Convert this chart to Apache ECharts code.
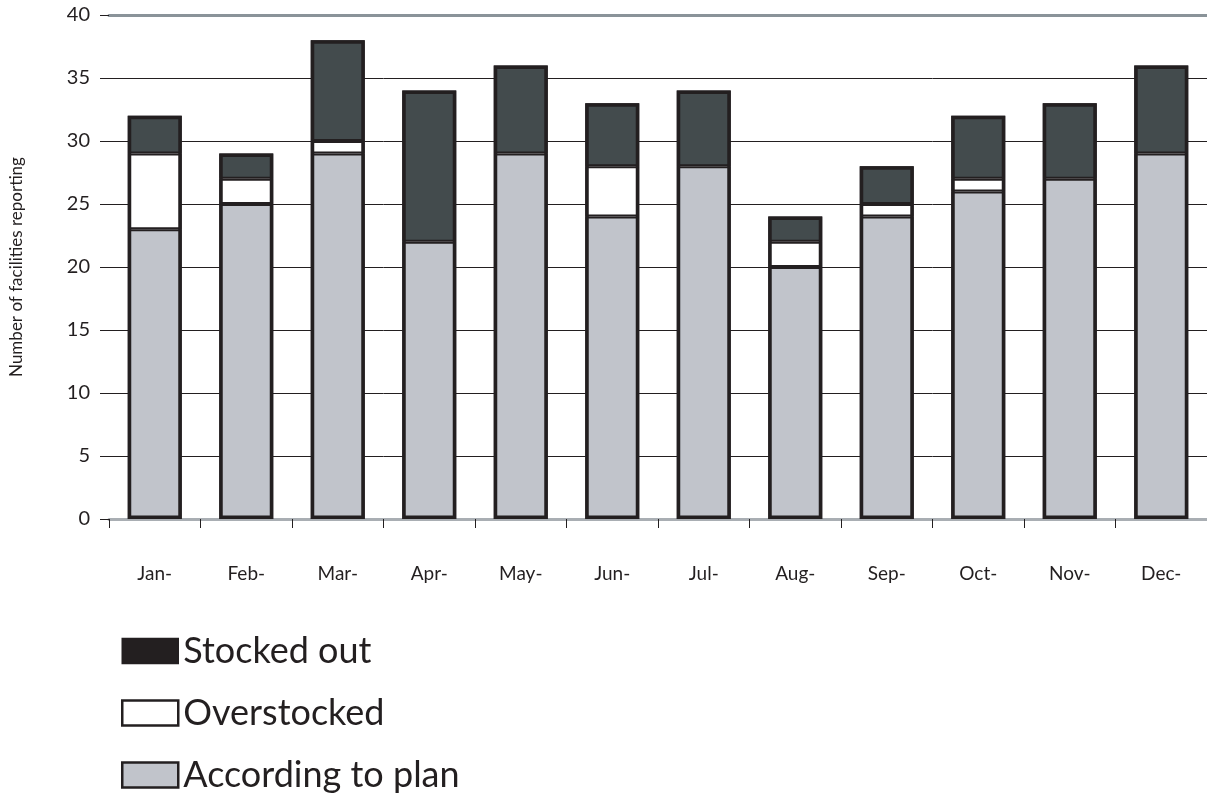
<!DOCTYPE html>
<html>
<head>
<meta charset="utf-8">
<script src="https://cdn.jsdelivr.net/npm/echarts@6/dist/echarts.min.js"></script>
<style>
html,body{margin:0;padding:0;background:#fff;}
#chart{width:1207px;height:800px;}
</style>
</head>
<body>
<div id="chart"></div>
<script>
const categories = ['Jan-','Feb-','Mar-','Apr-','May-','Jun-','Jul-','Aug-','Sep-','Oct-','Nov-','Dec-'];
const accordingToPlan = [23,25,29,22,29,24,28,20,24,26,27,29];
const overstocked     = [6,2,1,0,0,4,0,2,1,1,0,0];
const stockedOut      = [3,2,8,12,7,5,6,2,3,5,6,7];
const yTicks = [0,5,10,15,20,25,30,35,40];

const FONT = 'Lato, "Open Sans", sans-serif';
const INK = '#231f20';
const nz = arr => arr.map(v => v === 0 ? null : v);
const totals = categories.map((c, i) => accordingToPlan[i] + overstocked[i] + stockedOut[i]);

const chart = echarts.init(document.getElementById('chart'));
const BW = 54;
chart.setOption({
  animation: false,
  textStyle: { fontFamily: FONT, color: INK },
  grid: { left: 104, right: 0, top: 15, bottom: 281 },
  legend: {
    orient: 'vertical', left: 116, top: 628, height: 172,
    icon: 'rect',
    itemWidth: 56, itemHeight: 25, itemGap: 26,
    textStyle: { fontSize: 36, lineHeight: 36, color: INK, fontFamily: FONT, padding: [0,0,0,0] },
    data: [
      { name: 'Stocked out', itemStyle: { color: INK, borderColor: INK, borderWidth: 1.5 } },
      { name: 'Overstocked', itemStyle: { color: '#ffffff', borderColor: INK, borderWidth: 2.5 } },
      { name: 'According to plan', itemStyle: { color: '#c1c4cb', borderColor: INK, borderWidth: 2.5 } }
    ]
  },
  xAxis: [{
    type: 'category', data: categories, position: 'bottom',
    axisLine: { lineStyle: { color: '#a9aeb3', width: 3 } },
    axisTick: { show: true, length: 9, lineStyle: { color: INK, width: 1 } },
    axisLabel: { fontSize: 19, color: INK, margin: 45, fontFamily: FONT }
  }, {
    type: 'category', data: categories, position: 'top',
    axisLine: { lineStyle: { color: '#8a9399', width: 3 } },
    axisTick: { show: false }, axisLabel: { show: false }
  }],
  yAxis: {
    type: 'value', min: 0, max: 40, interval: 5,
    name: 'Number of facilities reporting', nameLocation: 'middle', nameGap: 84,
    nameTextStyle: { fontSize: 17, color: INK, fontFamily: FONT },
    axisLine: { show: false },
    axisTick: { show: true, length: 9, lineStyle: { color: INK } },
    axisLabel: { fontSize: 20, color: INK, margin: 19, fontFamily: FONT,
      formatter: v => yTicks.includes(v) ? String(v) : '' },
    splitLine: { show: true, lineStyle: { color: INK, width: 1 } }
  },
  series: [
    { type: 'bar', stack: 'total', barWidth: BW, name: 'According to plan', data: nz(accordingToPlan),
      itemStyle: { color: '#c1c4cb', borderColor: INK, borderWidth: 2 } },
    { type: 'bar', stack: 'total', barWidth: BW, name: 'Overstocked', data: nz(overstocked),
      itemStyle: { color: '#ffffff', borderColor: INK, borderWidth: 2 } },
    { type: 'bar', stack: 'total', barWidth: BW, name: 'Stocked out', data: nz(stockedOut),
      itemStyle: { color: '#434b4d', borderColor: INK, borderWidth: 2 } },
    { type: 'bar', stack: 'outline', barWidth: BW, barGap: '-100%', name: 'outline', data: totals,
      silent: true, z: 3,
      itemStyle: { color: 'rgba(0,0,0,0)', borderColor: INK, borderWidth: 3.5 } }
  ]
});
</script>
</body>
</html>
